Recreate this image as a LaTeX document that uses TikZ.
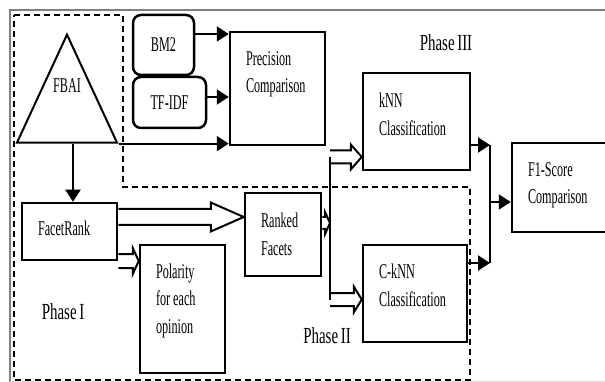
\documentclass[tikz,border=0pt]{standalone}
\usepackage{fontspec}
\setmainfont[FakeStretch=0.58, WordSpace=0.6]{Liberation Serif}
\newfontfamily\phasefont[FakeStretch=0.65, WordSpace=0.7]{Liberation Serif}
\usepackage{tikz}
\usetikzlibrary{shapes,arrows.meta,calc}

% block arrow drawn rightwards from #1 to the x of #2 (half shaft #3, half head #4, head length #5)
\newcommand{\hollowarrow}[5]{%
  \draw[hollow] let \p1=#1, \p2=#2 in
    (\x1,\y1+#3) -- (\x2-#5,\y1+#3) -- (\x2-#5,\y1+#4) -- (\x2,\y1)
    -- (\x2-#5,\y1-#4) -- (\x2-#5,\y1-#3) -- (\x1,\y1-#3);}

\begin{document}
\begin{tikzpicture}[x=1pt, y=-1pt, font=\fontsize{21}{27.5}\selectfont,
    box/.style={draw, rectangle, line width=2.5pt, align=left, inner sep=0pt},
    softbox/.style={draw, rectangle, rounded corners=8pt, line width=2.5pt, inner sep=0pt},
    phase/.style={font=\phasefont\fontsize{23}{27}\selectfont},
    link/.style={line width=2pt, -{Triangle[length=12pt,width=15pt]}},
    hollow/.style={line width=2pt, line join=miter},
    zone/.style={line width=2pt, dash pattern=on 6pt off 4pt}]
				\path[fill=white, use as bounding box] (0,0) rectangle (605,382);
				\clip (0,0) rectangle (605,382);
				\draw[gray, line width=1.2pt] (605,10) -- (10,10) -- (10,382);
				\draw[gray!30, line width=1pt] (10,381) -- (605,381);

				% phase I and II share one dashed outline
				\draw[zone] (14,15) -- (123,15) -- (123,187) -- (470,187) -- (470,380) -- (14,380) -- cycle;

				\node[draw, line width=2pt, isosceles triangle, shape border rotate=90, isosceles triangle stretches, minimum width=100, minimum height=108, inner sep=0pt, anchor=apex, label={[yshift=25pt]center:FBAI}] (FBAI) at (67,32) {};
				\node[softbox, minimum width=61, minimum height=60] (BM2) at (163.5,45) {BM2};
				\node[softbox, minimum width=73, minimum height=51] (TFIDF) at (169.5,102.5) {TF-IDF};
				\node[box, minimum width=95, minimum height=113, text width=63pt, text depth=60pt] (Precision) at (277.5,88.5) {Precision\\Comparison};
				\node[box, minimum width=107, minimum height=97, text width=75pt, text depth=42pt] (kNN) at (416.5,121.5) {kNN\\Classification};
				\node[box, minimum width=104, minimum height=97, text width=72pt, text depth=44pt] (CkNN) at (415,293.5) {C-kNN\\Classification};
				\node[box, minimum width=103, minimum height=89, text width=71pt, text depth=36pt] (F1) at (563.5,187.5) {F1-Score\\Comparison};
				\node[box, minimum width=95, minimum height=57, text width=63pt, text depth=7pt] (FacetRank) at (69.5,231.5) {FacetRank};
				\node[box, minimum width=76, minimum height=83, text width=44pt] (Ranked) at (283,234.5) {Ranked\\Facets};
				\node[box, minimum width=85, minimum height=128, text width=53pt, text depth=76pt] (Polarity) at (182.5,309) {Polarity\\for\hspace{3pt}each\\opinion};

				\node[phase] (PhaseI) at (63,312) {Phase I};
				\node[phase] (PhaseII) at (327,336) {Phase II};
				\node[phase] (PhaseIII) at (446,43) {Phase III};

				% where the lines split and join
				\coordinate (split) at (330,223);
				\coordinate (join) at (490,202);
				\coordinate (down) at ($(FacetRank.north)+(3.5,0)$);
				\coordinate (bmout) at ($(BM2.east)+(0,-11)$);
				\coordinate (tfout) at ($(TFIDF.east)+(0,-5.5)$);
				\coordinate (kNNin) at ($(kNN.west)+(0,35.5)$);
				\coordinate (CkNNin) at ($(CkNN.west)+(0,6)$);
				\coordinate (kNNout) at ($(kNN.east)+(0,23.5)$);
				\coordinate (CkNNout) at ($(CkNN.east)+(0,-30.5)$);

				\draw[link] (bmout) -- (bmout -| Precision.west);
				\draw[link] (tfout) -- (tfout -| Precision.west);
				\draw[link] (FBAI.right corner) -- (FBAI.right corner -| Precision.west);
				\draw[link] (down |- FBAI.lower side) -- (down);
				\draw[link] (kNNout) -- (kNNout -| join);
				\draw[link] (CkNNout) -- (CkNNout -| join);
				\draw[line width=2pt] (kNNout -| join) -- (CkNNout -| join);
				\draw[link] (join) -- (join -| F1.west);
				\draw[line width=2pt] (split |- kNNin) -- (split |- CkNNin);

				\hollowarrow{([yshift=14.5pt]FacetRank.east)}{(Ranked.west)}{8pt}{14.5pt}{33pt}
				\hollowarrow{([yshift=-29.5pt]FacetRank.east)}{(Polarity.west)}{7pt}{13pt}{6pt}
				\hollowarrow{(Ranked.east |- split)}{(split)}{6pt}{11pt}{5pt}
				\hollowarrow{(split |- kNNin)}{(kNNin)}{6.5pt}{12.5pt}{11pt}
				\hollowarrow{(split |- CkNNin)}{(CkNNin)}{6.5pt}{13pt}{8pt}

			\end{tikzpicture}
\end{document}
